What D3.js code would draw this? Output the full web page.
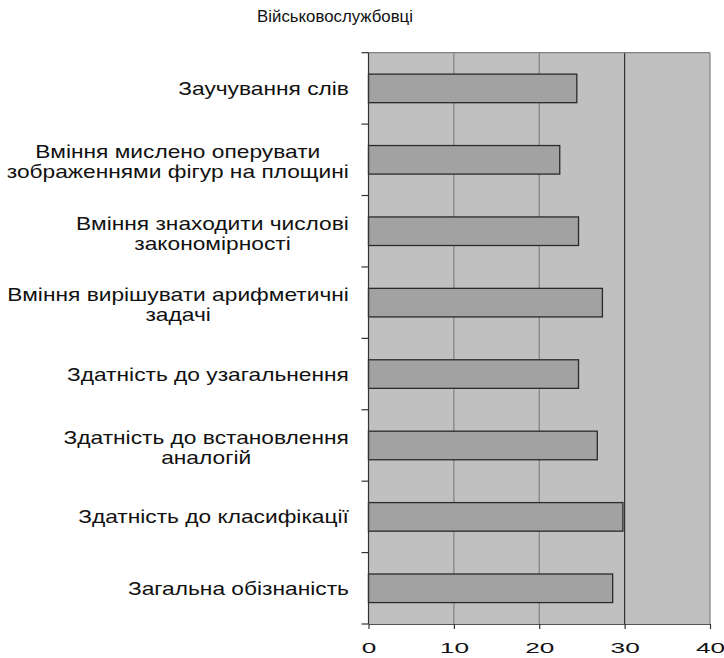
<!DOCTYPE html>
<html>
<head>
<meta charset="utf-8">
<script src="https://cdn.jsdelivr.net/npm/d3@7"></script>
<style>
  html, body { margin: 0; padding: 0; background: #fff; }
  svg { display: block; }
  text { font-family: "Liberation Sans", Arial, sans-serif; fill: #111; }
</style>
</head>
<body>
<svg id="chart" width="724" height="658"></svg>
<script>
const title = "Військовослужбовці";
const categories = [
  "Заучування слів",
  "Вміння мислено оперувати\nзображеннями фігур на площині",
  "Вміння знаходити числові\nзакономірності",
  "Вміння вирішувати арифметичні\nзадачі",
  "Здатність до узагальнення",
  "Здатність до встановлення\nаналогій",
  "Здатність до класифікації",
  "Загальна обізнаність"
];
const values = [24.4, 22.4, 24.6, 27.4, 24.6, 26.8, 29.8, 28.6];
const xTicks = [0, 10, 20, 30, 40];

const SX = 1.3;   // horizontal stretch of the category text in the reference
const SXT = 1.75; // horizontal stretch of the tick numbers
const svg = d3.select("#chart");
const L = 368.5, R = 710, T = 52.7, B = 624;

const x = d3.scaleLinear().domain([0, 40]).range([L, R]);
const y = d3.scaleBand().domain(categories).range([T, B]).paddingInner(0.6).paddingOuter(0.3);

// plot background
svg.append("rect").attr("x", L).attr("y", T).attr("width", R - L).attr("height", B - T)
  .attr("fill", "#c0c0c0");

// gridlines
svg.append("g").selectAll("line").data(xTicks.filter(d => d > 0)).join("line")
  .attr("x1", d => x(d)).attr("x2", d => x(d)).attr("y1", T).attr("y2", B)
  .attr("stroke", d => d === 30 ? "#333" : "#808080").attr("stroke-width", 1.2);
// top border
svg.append("line").attr("x1", L).attr("x2", R).attr("y1", T).attr("y2", T)
  .attr("stroke", "#808080").attr("stroke-width", 1.2);

// bars
svg.append("g").selectAll("rect").data(values).join("rect")
  .attr("x", x(0)).attr("y", (d, i) => y(categories[i]))
  .attr("width", d => x(d) - x(0)).attr("height", y.bandwidth())
  .attr("fill", "#a2a2a2").attr("stroke", "#2a2a2a").attr("stroke-width", 1.3);

// left axis line and ticks at band boundaries
const yAxisG = svg.append("g");
yAxisG.append("line").attr("x1", L).attr("x2", L).attr("y1", T).attr("y2", B)
  .attr("stroke", "#333").attr("stroke-width", 1.2);
const bounds = d3.range(categories.length + 1).map(i => T + i * y.step());
yAxisG.selectAll("line.tk").data(bounds).join("line").attr("class", "tk")
  .attr("x1", L - 7).attr("x2", L).attr("y1", d => d).attr("y2", d => d)
  .attr("stroke", "#333").attr("stroke-width", 1.2);

// bottom axis
const xAxis = d3.axisBottom(x).tickValues(xTicks).tickSize(5).tickPadding(8).tickSizeOuter(0);
const xg = svg.append("g").attr("transform", `translate(0,${B})`).call(xAxis);
xg.select(".domain").attr("stroke", "#555").attr("stroke-width", 1.2);
xg.selectAll(".tick line").attr("stroke", "#333").attr("stroke-width", 1.2);
xg.selectAll(".tick text")
  .attr("font-size", 15).attr("fill", "#111")
  .attr("font-family", "Liberation Sans, Arial, sans-serif")
  .each(function() {
    const t = d3.select(this);
    const yy = +t.attr("y");
    t.attr("y", null).attr("dy", null)
     .attr("transform", `translate(0,${yy + 16}) scale(${SXT},1)`);
  });

// category labels
const labelRight = 349;
categories.forEach((c, i) => {
  const lines = c.split("\n");
  const cy = y(c) + y.bandwidth() / 2;
  const g = svg.append("g");
  const t = g.append("text").attr("font-size", 17.5).attr("text-anchor", "middle");
  const tsp = lines.map((ln, k) => t.append("tspan").attr("x", 0)
    .attr("y", lines.length === 1 ? 6.5 : (k === 0 ? -1.5 : 18.5)).text(ln));
  const maxW = d3.max(tsp, s => s.node().getComputedTextLength()) * SX;
  g.attr("transform", `translate(${labelRight - maxW / 2},${cy}) scale(${SX},1)`);
});

// title
svg.append("text").attr("font-size", 16).attr("text-anchor", "middle")
  .attr("transform", `translate(335,22) scale(1.05,1)`).text(title);
</script>
</body>
</html>
